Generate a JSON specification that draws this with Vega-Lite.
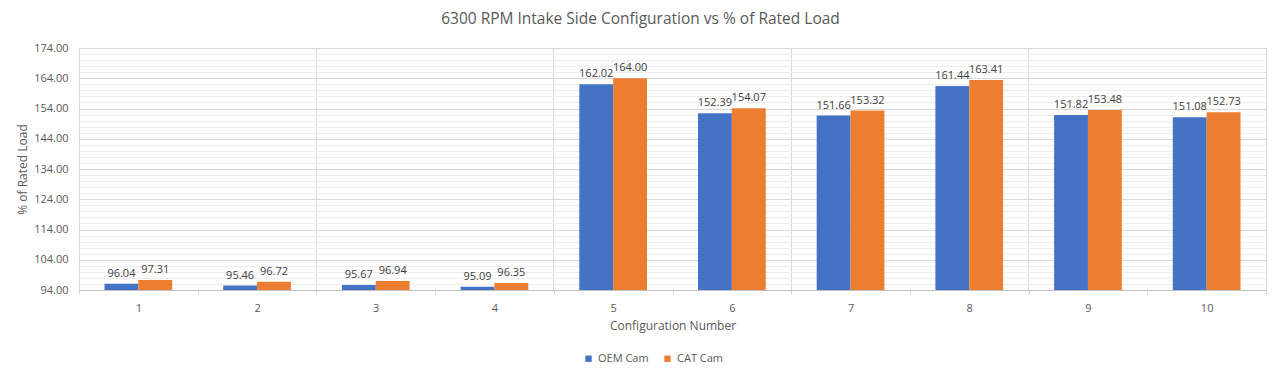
{
  "$schema": "https://vega.github.io/schema/vega-lite/v6.json",
  "width": 1187,
  "height": 242,
  "autosize": {"type": "none"},
  "padding": {"left": 79, "top": 48, "right": 14, "bottom": 88},
  "background": "white",
  "config": {
    "font": "Open Sans",
    "view": {"stroke": "#d9d9d9", "strokeWidth": 1},
    "axis": {"labelColor": "#595959", "titleColor": "#595959", "labelFontSize": 11, "titleFontSize": 12, "titleFontWeight": "normal", "labelFont": "Open Sans", "titleFont": "Open Sans"}
  },
  "title": {
    "text": "6300 RPM Intake Side Configuration vs % of Rated Load",
    "fontSize": 15.5,
    "fontWeight": "normal",
    "color": "#595959",
    "font": "Open Sans",
    "anchor": "middle",
    "dx": -32,
    "offset": 15
  },
  "data": {
    "values": [
      {"config": 1, "series": "OEM Cam", "value": 96.04},
      {"config": 1, "series": "CAT Cam", "value": 97.31},
      {"config": 2, "series": "OEM Cam", "value": 95.46},
      {"config": 2, "series": "CAT Cam", "value": 96.72},
      {"config": 3, "series": "OEM Cam", "value": 95.67},
      {"config": 3, "series": "CAT Cam", "value": 96.94},
      {"config": 4, "series": "OEM Cam", "value": 95.09},
      {"config": 4, "series": "CAT Cam", "value": 96.35},
      {"config": 5, "series": "OEM Cam", "value": 162.02},
      {"config": 5, "series": "CAT Cam", "value": 164.00},
      {"config": 6, "series": "OEM Cam", "value": 152.39},
      {"config": 6, "series": "CAT Cam", "value": 154.07},
      {"config": 7, "series": "OEM Cam", "value": 151.66},
      {"config": 7, "series": "CAT Cam", "value": 153.32},
      {"config": 8, "series": "OEM Cam", "value": 161.44},
      {"config": 8, "series": "CAT Cam", "value": 163.41},
      {"config": 9, "series": "OEM Cam", "value": 151.82},
      {"config": 9, "series": "CAT Cam", "value": 153.48},
      {"config": 10, "series": "OEM Cam", "value": 151.08},
      {"config": 10, "series": "CAT Cam", "value": 152.73}
    ]
  },
  "layer": [
    {
      "mark": {"type": "bar", "clip": true},
      "encoding": {
        "x": {
          "field": "config",
          "type": "ordinal",
          "scale": {"paddingInner": 0, "paddingOuter": 0},
          "axis": {
            "title": "Configuration Number",
            "tickBand": "extent",
            "grid": false,
            "labelAngle": 0,
            "domainColor": "#bfbfbf",
            "tickColor": "#d9d9d9",
            "tickSize": 4,
            "labelPadding": 8,
            "titlePadding": 7
          }
        },
        "xOffset": {
          "field": "series",
          "type": "nominal",
          "sort": ["OEM Cam", "CAT Cam"],
          "scale": {"paddingInner": 0, "paddingOuter": 0.753}
        },
        "y": {
          "field": "value",
          "type": "quantitative",
          "scale": {"domain": [94, 174], "zero": false, "nice": false},
          "axis": {
            "title": "% of Rated Load",
            "values": [94, 104, 114, 124, 134, 144, 154, 164, 174],
            "format": ".2f",
            "gridColor": "#d9d9d9",
            "ticks": false,
            "domain": false,
            "labelPadding": 11,
            "titlePadding": 4
          }
        },
        "color": {
          "field": "series",
          "type": "nominal",
          "scale": {"domain": ["OEM Cam", "CAT Cam"], "range": ["#4472C4", "#ED7D31"]},
          "legend": {
            "title": null,
            "orient": "none",
            "legendX": 504,
            "legendY": 305,
            "direction": "horizontal",
            "symbolType": "square",
            "symbolSize": 40,
            "symbolStrokeWidth": 0,
            "labelFontSize": 11,
            "labelColor": "#595959",
            "labelFont": "Open Sans",
            "labelOffset": 4,
            "columnPadding": 13
          }
        }
      }
    },
    {
      "mark": {"type": "text", "baseline": "alphabetic", "dy": -7, "fontSize": 11, "color": "#404040", "font": "Open Sans"},
      "encoding": {
        "x": {
          "field": "config",
          "type": "ordinal",
          "axis": {
            "orient": "top",
            "values": [1, 3, 5, 7, 9],
            "bandPosition": 0,
            "grid": true,
            "gridColor": "#d9d9d9",
            "labels": false,
            "ticks": false,
            "domain": false,
            "title": null
          }
        },
        "xOffset": {"field": "series", "type": "nominal", "sort": ["OEM Cam", "CAT Cam"]},
        "y": {
          "field": "value",
          "type": "quantitative",
          "axis": {
            "orient": "right",
            "values": [96, 98, 100, 102, 106, 108, 110, 112, 116, 118, 120, 122, 126, 128, 130, 132, 136, 138, 140, 142, 146, 148, 150, 152, 156, 158, 160, 162, 166, 168, 170, 172],
            "grid": true,
            "gridColor": "#ededed",
            "labels": false,
            "ticks": false,
            "domain": false,
            "title": null
          }
        },
        "text": {"field": "value", "type": "quantitative", "format": ".2f"}
      }
    }
  ],
  "resolve": {"axis": {"x": "independent", "y": "independent"}}
}
